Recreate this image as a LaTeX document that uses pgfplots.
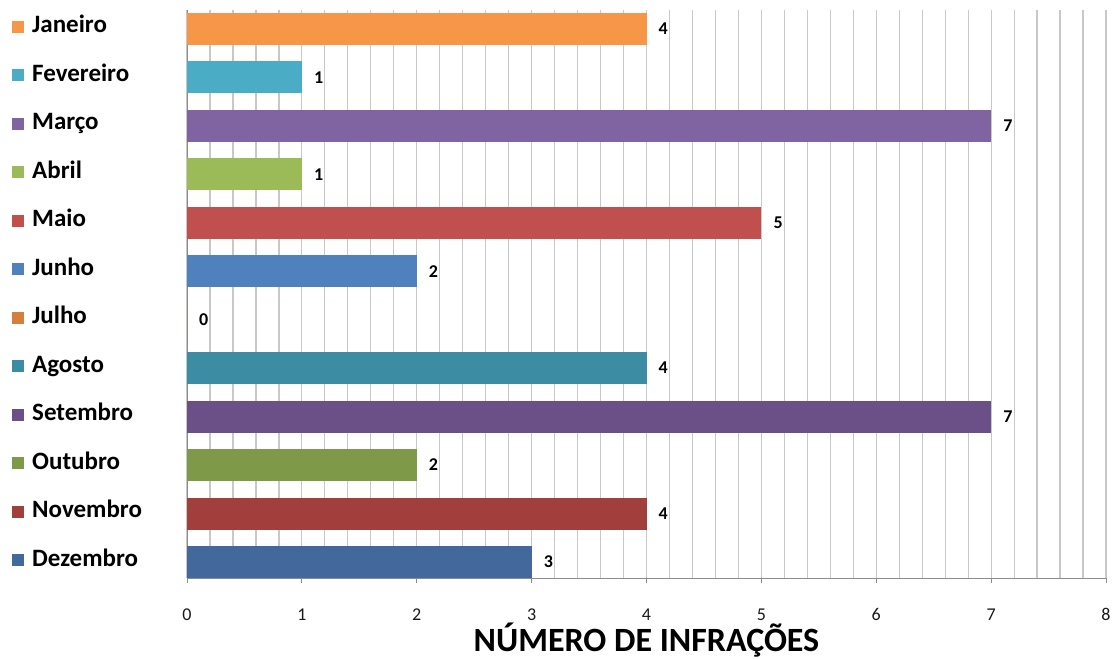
\documentclass[border=0pt]{standalone}
\usepackage{pgfplots}
\pgfplotsset{compat=1.18}
\usepackage{fontspec}
\setmainfont{Carlito}
\definecolor{cJan}{HTML}{F79646}
\definecolor{cFev}{HTML}{4BACC6}
\definecolor{cMar}{HTML}{8064A2}
\definecolor{cAbr}{HTML}{9BBB59}
\definecolor{cMai}{HTML}{C0504D}
\definecolor{cJun}{HTML}{4F81BD}
\definecolor{cJul}{HTML}{D57F3E}
\definecolor{cAgo}{HTML}{3C8DA3}
\definecolor{cSet}{HTML}{6A5087}
\definecolor{cOut}{HTML}{7E9A48}
\definecolor{cNov}{HTML}{A13F3D}
\definecolor{cDez}{HTML}{43699C}
\definecolor{gridc}{HTML}{C8C8C8}
\definecolor{axc}{HTML}{8C8C8C}
\newcommand{\sq}[1]{\textcolor{#1}{\rule{12bp}{12bp}}\hspace{8bp}}
\newcommand{\tl}[1]{{\fontsize{18bp}{21bp}\selectfont #1}}
\begin{document}
\begin{tikzpicture}
\useasboundingbox (0,0) rectangle (1115bp,659bp);
\begin{axis}[
  at={(187bp,81bp)}, anchor=south west,
  scale only axis, width=919bp, height=568bp,
  xbar, bar width=32bp, bar shift=0pt,
  xmin=0, xmax=8, ymin=-0.33, ymax=11.39,
  xtick={0,...,8}, minor x tick num=4,
  xmajorgrids, xminorgrids,
  major grid style={draw=gridc, line width=1.2bp},
  minor grid style={draw=gridc, line width=1.2bp},
  axis x line*=bottom, axis y line*=left,
  axis line style={draw=axc, line width=1bp},
  x axis line style={-}, y axis line style={-},
  tick align=outside,
  major tick length=5bp, minor tick length=0pt,
  xtick style={draw=axc, line width=1bp},
  ytick={0,...,11}, ytick style={draw=none},
  yticklabels={
    {\sq{cDez}Dezembro},{\sq{cNov}Novembro},{\sq{cOut}Outubro},{\sq{cSet}Setembro},
    {\sq{cAgo}Agosto},{\sq{cJul}Julho},{\sq{cJun}Junho},{\sq{cMai}Maio},
    {\sq{cAbr}Abril},{\sq{cMar}Março},{\sq{cFev}Fevereiro},{\sq{cJan}Janeiro}},
  yticklabel style={anchor=base west, xshift=-170bp, yshift=-4bp, inner xsep=0pt, inner ysep=0pt, font=\fontsize{25bp}{28bp}\selectfont\bfseries},
  xticklabels={\tl{0},\tl{1},\tl{2},\tl{3},\tl{4},\tl{5},\tl{6},\tl{7},\tl{8}},
  xticklabel style={anchor=base, yshift=-37bp, text=black!90},
  /pgf/number format/assume math mode=true,
  xlabel={NÚMERO DE INFRAÇÕES},
  xlabel style={at={(axis description cs:0.5,0)}, anchor=base, yshift=-73bp, inner sep=0pt, font=\fontsize{34bp}{38bp}\selectfont\bfseries},
  nodes near coords={\pgfmathprintnumber[assume math mode=true]{\pgfplotspointmeta}},
  point meta=x,
  nodes near coords style={anchor=west, xshift=12bp, inner sep=0pt, font=\fontsize{18bp}{20bp}\selectfont\bfseries, text=black},
]
\addplot[fill=cJan, draw=none] coordinates {(4,11)};
\addplot[fill=cFev, draw=none] coordinates {(1,10)};
\addplot[fill=cMar, draw=none] coordinates {(7,9)};
\addplot[fill=cAbr, draw=none] coordinates {(1,8)};
\addplot[fill=cMai, draw=none] coordinates {(5,7)};
\addplot[fill=cJun, draw=none] coordinates {(2,6)};
\addplot[fill=cJul, draw=none] coordinates {(0,5)};
\addplot[fill=cAgo, draw=none] coordinates {(4,4)};
\addplot[fill=cSet, draw=none] coordinates {(7,3)};
\addplot[fill=cOut, draw=none] coordinates {(2,2)};
\addplot[fill=cNov, draw=none] coordinates {(4,1)};
\addplot[fill=cDez, draw=none] coordinates {(3,0)};
\end{axis}
\end{tikzpicture}
\end{document}
